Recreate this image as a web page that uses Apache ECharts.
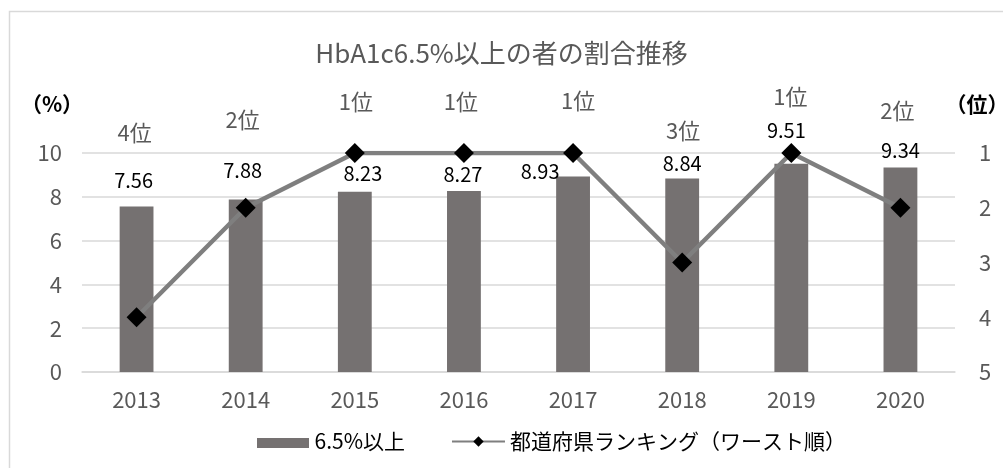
<!DOCTYPE html>
<html>
<head>
<meta charset="utf-8">
<script src="https://cdn.jsdelivr.net/npm/echarts@6/dist/echarts.min.js"></script>
<style>
  html, body { margin: 0; padding: 0; background: #fff; }
  #main { width: 1003px; height: 468px; }
</style>
</head>
<body>
<div id="main"></div>
<script>
var years = ['2013', '2014', '2015', '2016', '2017', '2018', '2019', '2020'];
var rates = [7.56, 7.88, 8.23, 8.27, 8.93, 8.84, 9.51, 9.34];
var ranks = [4, 2, 1, 1, 1, 3, 1, 2];

// label placement (hand-tuned, the source had labels dragged around)
var rateLabelOffsets = [[-3, -109], [-3, -115], [8, -108], [-1, -107], [-33, -103], [0, -112], [-5, -137], [0, -119]];
var rankLabelOffsets = [[-2, -185], [-3, -88], [1, -51], [-3, -51], [5, -52], [1, -132], [-1, -56], [-3, -97]];

var font = "'Noto Sans CJK JP', 'Noto Sans', sans-serif";

var dom = document.getElementById('main');
var myChart = echarts.init(dom, null, { renderer: 'canvas' });

var option = {
  backgroundColor: '#fff',
  textStyle: { fontFamily: font },
  title: {
    text: 'HbA1c6.5%以上の者の割合推移',
    left: 'center',
    top: 35,
    textStyle: { fontSize: 26, fontWeight: 'normal', color: '#595959', fontFamily: font }
  },
  graphic: [{
    type: 'rect',
    shape: { x: 9.5, y: 11.5, width: 1100, height: 600 },
    style: { fill: 'none', stroke: '#d9d9d9', lineWidth: 1.5 },
    silent: true
  }],
  legend: {
    left: 252,
    top: 426,
    itemGap: 46,
    itemWidth: 53,
    itemHeight: 13,
    textStyle: { fontSize: 21, color: '#000', fontFamily: font },
    data: [
      { name: '6.5%以上', icon: 'path://M0,0L0,0M0,3L52,3L52,13L0,13Z', itemStyle: { color: '#757171' } },
      { name: '都道府県ランキング（ワースト順）' }
    ]
  },
  grid: { left: 82, right: 48, top: 153, bottom: 96, outerBoundsMode: 'none' },
  xAxis: {
    type: 'category',
    data: years,
    axisLine: { show: true, lineStyle: { color: '#d9d9d9', width: 1.5 } },
    axisTick: { show: false },
    axisLabel: { fontSize: 22, color: '#595959', margin: 17, fontFamily: font }
  },
  yAxis: [
    {
      type: 'value',
      min: 0,
      max: 10,
      interval: 2,
      name: '（%）',
      nameLocation: 'end',
      nameGap: 38,
      nameTextStyle: { fontSize: 21, fontWeight: 'bold', color: '#000', padding: [0, 60, 0, 0], fontFamily: font },
      axisLine: { show: false },
      axisTick: { show: false },
      axisLabel: { fontSize: 22, color: '#595959', margin: 20, fontFamily: font },
      splitLine: { lineStyle: { color: '#d9d9d9', width: 1.5 } }
    },
    {
      type: 'value',
      min: 1,
      max: 5,
      interval: 1,
      inverse: true,
      name: '（位）',
      nameLocation: 'start',
      nameGap: 38,
      nameTextStyle: { fontSize: 21, fontWeight: 'bold', color: '#000', padding: [0, 0, 0, 44], fontFamily: font },
      axisLine: { show: false },
      axisTick: { show: false },
      axisLabel: { fontSize: 22, color: '#595959', margin: 24, fontFamily: font },
      splitLine: { show: false }
    }
  ],
  series: [
    {
      name: '6.5%以上',
      type: 'bar',
      barWidth: '31%',
      itemStyle: { color: '#757171' },
      data: rates.map(function (v, i) {
        return { value: v, label: { offset: rateLabelOffsets[i] } };
      }),
      label: {
        show: true,
        position: 'inside',
        fontSize: 20,
        color: '#000',
        fontFamily: font,
        formatter: function (p) { return p.value.toFixed(2); }
      },
      z: 2
    },
    {
      name: '都道府県ランキング（ワースト順）',
      type: 'line',
      yAxisIndex: 1,
      symbol: 'diamond',
      symbolSize: 20,
      lineStyle: { color: '#7f7f7f', width: 4.5 },
      itemStyle: { color: '#000' },
      data: ranks.map(function (v, i) {
        return { value: v, label: { offset: rankLabelOffsets[i] } };
      }),
      label: {
        show: true,
        position: 'inside',
        fontSize: 22,
        color: '#595959',
        fontFamily: font,
        formatter: function (p) { return p.value + '位'; }
      },
      z: 3
    }
  ]
};

myChart.setOption(option);
window.addEventListener('resize', myChart.resize);
</script>
</body>
</html>
